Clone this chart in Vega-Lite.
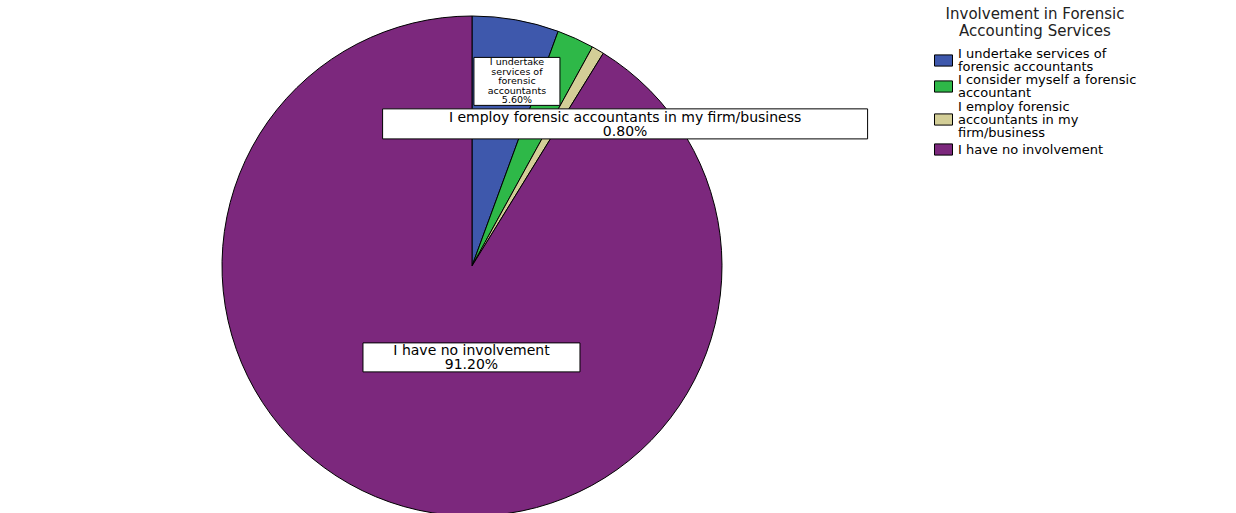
{
  "$schema": "https://vega.github.io/schema/vega-lite/v6.json",
  "autosize": {"type": "none"},
  "padding": {"left": 0, "top": 16, "right": 292, "bottom": 0},
  "width": 944,
  "height": 500,
  "background": "white",
  "config": {"view": {"stroke": null}},
  "data": {
    "values": [
      {"category": "I undertake services of forensic accountants", "pct": 5.6, "rank": 1},
      {"category": "I consider myself a forensic accountant", "pct": 2.4, "rank": 2},
      {"category": "I employ forensic accountants in my firm/business", "pct": 0.8, "rank": 3},
      {"category": "I have no involvement", "pct": 91.2, "rank": 4}
    ]
  },
  "layer": [
    {
      "mark": {"type": "arc", "radius": 250, "stroke": "black", "strokeWidth": 1},
      "encoding": {
        "theta": {"field": "pct", "type": "quantitative", "stack": true},
        "order": {"field": "rank", "type": "quantitative"},
        "color": {
          "field": "category",
          "type": "nominal",
          "scale": {
            "domain": ["I undertake services of forensic accountants", "I consider myself a forensic accountant", "I employ forensic accountants in my firm/business", "I have no involvement"],
            "range": ["#3E58AC", "#2EB848", "#D3CE97", "#7C287D"]
          },
          "legend": {
            "title": ["Involvement in Forensic", "Accounting Services"],
            "orient": "none",
            "legendX": 934,
            "legendY": -9,
            "titleFont": "DejaVu Sans",
            "titleFontSize": 15,
            "titleFontWeight": "normal",
            "titleColor": "#222222",
            "titleAnchor": "middle",
            "titleLimit": 0,
            "titlePadding": 12,
            "titleLineHeight": 17,
            "labelFont": "DejaVu Sans",
            "labelFontSize": 13,
            "labelColor": "black",
            "labelLimit": 0,
            "labelOffset": 5,
            "symbolType": "M-1,-0.62H1V0.62H-1Z",
            "symbolSize": 324,
            "symbolStrokeColor": "black",
            "symbolStrokeWidth": 1,
            "symbolOpacity": 1,
            "rowPadding": 0,
            "labelExpr": "datum.label === 'I undertake services of forensic accountants' ? ['I undertake services of', 'forensic accountants'] : datum.label === 'I consider myself a forensic accountant' ? ['I consider myself a forensic', 'accountant'] : datum.label === 'I employ forensic accountants in my firm/business' ? ['I employ forensic', 'accountants in my', 'firm/business'] : datum.label",
            "encode": {
              "labels": {
                "update": {
                  "lineHeight": {"value": 13},
                  "dy": {"signal": "datum.value === 'I employ forensic accountants in my firm/business' ? -13 : datum.value === 'I have no involvement' ? 0 : -6.5"}
                }
              }
            }
          }
        }
      }
    },
    {
      "transform": [
        {"window": [{"op": "sum", "field": "pct", "as": "cum"}], "sort": [{"field": "rank"}]},
        {"calculate": "(datum.cum - datum.pct / 2) / 100 * 2 * PI", "as": "mid"},
        {"filter": "datum.category === 'I undertake services of forensic accountants'"},
        {"calculate": "0.75 * sin(datum.mid) - 0.034", "as": "lx"},
        {"calculate": "0.75 * cos(datum.mid)", "as": "ly"},
        {"calculate": "['I undertake', 'services of', 'forensic', 'accountants', format(datum.pct / 100, '.2%')]", "as": "lines"}
      ],
      "encoding": {
        "x": {"field": "lx", "type": "quantitative", "scale": {"domain": [-1.0216, 1.0216], "nice": false, "zero": false}, "axis": null},
        "y": {"field": "ly", "type": "quantitative", "scale": {"domain": [-1, 1], "nice": false, "zero": false}, "axis": null}
      },
      "layer": [
        {"mark": {"type": "point", "shape": "M-1,-0.558H1V0.558H-1Z", "size": 7396, "filled": true, "fill": "white", "stroke": "black", "strokeWidth": 1, "opacity": 1}},
        {"mark": {"type": "text", "font": "DejaVu Sans", "fontSize": 9.5, "lineHeight": 9.5, "color": "black", "align": "center", "baseline": "middle", "dy": -19}, "encoding": {"text": {"field": "lines"}}}
      ]
    },
    {
      "transform": [
        {"window": [{"op": "sum", "field": "pct", "as": "cum"}], "sort": [{"field": "rank"}]},
        {"calculate": "(datum.cum - datum.pct / 2) / 100 * 2 * PI", "as": "mid"},
        {"filter": "datum.category === 'I employ forensic accountants in my firm/business'"},
        {"calculate": "0.658 * sin(datum.mid)", "as": "lx"},
        {"calculate": "0.658 * cos(datum.mid)", "as": "ly"},
        {"calculate": "[datum.category, format(datum.pct / 100, '.2%')]", "as": "lines"}
      ],
      "encoding": {
        "x": {"field": "lx", "type": "quantitative"},
        "y": {"field": "ly", "type": "quantitative"}
      },
      "layer": [
        {"mark": {"type": "point", "shape": "M-1,-0.0619H1V0.0619H-1Z", "size": 235225, "filled": true, "fill": "white", "stroke": "black", "strokeWidth": 1, "opacity": 1}},
        {"mark": {"type": "text", "font": "DejaVu Sans", "fontSize": 14, "lineHeight": 14, "color": "black", "align": "center", "baseline": "middle", "dy": -6}, "encoding": {"text": {"field": "lines"}}}
      ]
    },
    {
      "transform": [
        {"window": [{"op": "sum", "field": "pct", "as": "cum"}], "sort": [{"field": "rank"}]},
        {"calculate": "(datum.cum - datum.pct / 2) / 100 * 2 * PI", "as": "mid"},
        {"filter": "datum.category === 'I have no involvement'"},
        {"calculate": "0.38 * sin(datum.mid) + 0.1026", "as": "lx"},
        {"calculate": "0.38 * cos(datum.mid)", "as": "ly"},
        {"calculate": "[datum.category, format(datum.pct / 100, '.2%')]", "as": "lines"}
      ],
      "encoding": {
        "x": {"field": "lx", "type": "quantitative"},
        "y": {"field": "ly", "type": "quantitative"}
      },
      "layer": [
        {"mark": {"type": "point", "shape": "M-1,-0.1336H1V0.1336H-1Z", "size": 47089, "filled": true, "fill": "white", "stroke": "black", "strokeWidth": 1, "opacity": 1}},
        {"mark": {"type": "text", "font": "DejaVu Sans", "fontSize": 14, "lineHeight": 14, "color": "black", "align": "center", "baseline": "middle", "dy": -6}, "encoding": {"text": {"field": "lines"}}}
      ]
    }
  ]
}
